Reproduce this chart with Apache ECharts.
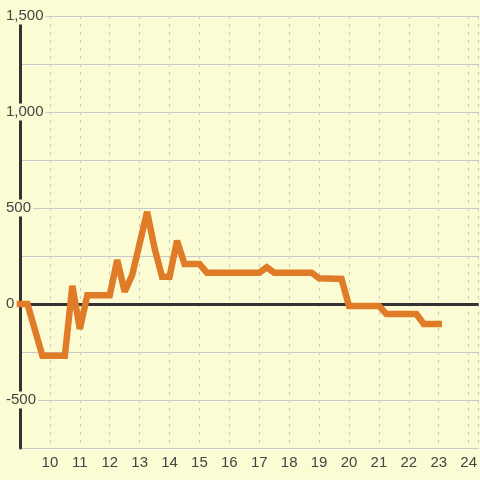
<!DOCTYPE html>
<html>
<head>
<meta charset="utf-8">
<script src="https://cdn.jsdelivr.net/npm/echarts@6/dist/echarts.min.js"></script>
<style>
  html, body { margin: 0; padding: 0; background: #fcfcd4; }
  #chart { width: 480px; height: 480px; }
</style>
</head>
<body>
<div id="chart"></div>
<script>
  // hours of day
  var times = [9, 9.25, 9.75, 10.5, 10.75, 11, 11.25, 12, 12.25, 12.5, 12.75, 13.25, 13.5, 13.75, 14, 14.25,
    14.5, 15, 15.25, 17, 17.25, 17.5, 18.75, 19, 19.75, 20, 21, 21.25, 22.25, 22.5, 23];
  var values = [0, 0, -270, -270, 95, -130, 45, 45, 229, 64, 150, 480, 290, 142, 142, 330,
    208, 208, 163, 163, 191, 163, 163, 134, 130, -10, -10, -52, -52, -104, -104];
  var yMin = -750, yMax = 1500, yStep = 250, yLabelStep = 500;
  var xMin = 9, xMax = 24.333;

  var bg = '#fcfcd4';
  var textColor = '#444';
  var gridColor = '#c8c8c8';

  var points = [];
  for (var i = 0; i < times.length; i++) {
    points.push([times[i], values[i]]);
  }

  var chart = echarts.init(document.getElementById('chart'));
  var option = {
    backgroundColor: bg,
    animation: false,
    grid: { left: 20, right: 0, top: 16, bottom: 32, containLabel: false },
    xAxis: {
      type: 'value',
      min: xMin,
      max: xMax,
      interval: 1,
      axisLine: { show: false },
      axisTick: { show: false },
      axisLabel: {
        color: textColor,
        fontSize: 15,
        fontFamily: 'Liberation Sans',
        margin: 7,
        showMinLabel: false,
        showMaxLabel: false
      },
      splitLine: { show: true, lineStyle: { color: gridColor, width: 1, type: [3, 5] } }
    },
    yAxis: {
      type: 'value',
      min: yMin,
      max: yMax,
      interval: yStep,
      axisLine: { show: true, lineStyle: { color: '#333', width: 3 } },
      axisTick: { show: false },
      axisLabel: {
        color: textColor,
        fontSize: 15,
        fontFamily: 'Liberation Sans',
        align: 'left',
        margin: 16,
        backgroundColor: bg,
        padding: [1, 2],
        formatter: function (val) {
          if (val % yLabelStep !== 0) return '';
          return val.toLocaleString('en-US');
        }
      },
      splitLine: { show: true, lineStyle: { color: gridColor, width: 1 } }
    },
    series: [
      {
        // zero line, kept under the data line
        type: 'line',
        data: [],
        z: 1,
        silent: true,
        markLine: {
          silent: true,
          symbol: 'none',
          label: { show: false },
          lineStyle: { color: '#333', width: 3, type: 'solid' },
          data: [{ yAxis: 0 }]
        }
      },
      {
        type: 'line',
        data: points,
        showSymbol: false,
        clip: false,
        lineStyle: { color: '#e07b27', width: 6.5, cap: 'square', join: 'miter', miterLimit: 2 },
        z: 5
      }
    ]
  };
  chart.setOption(option);
</script>
</body>
</html>
